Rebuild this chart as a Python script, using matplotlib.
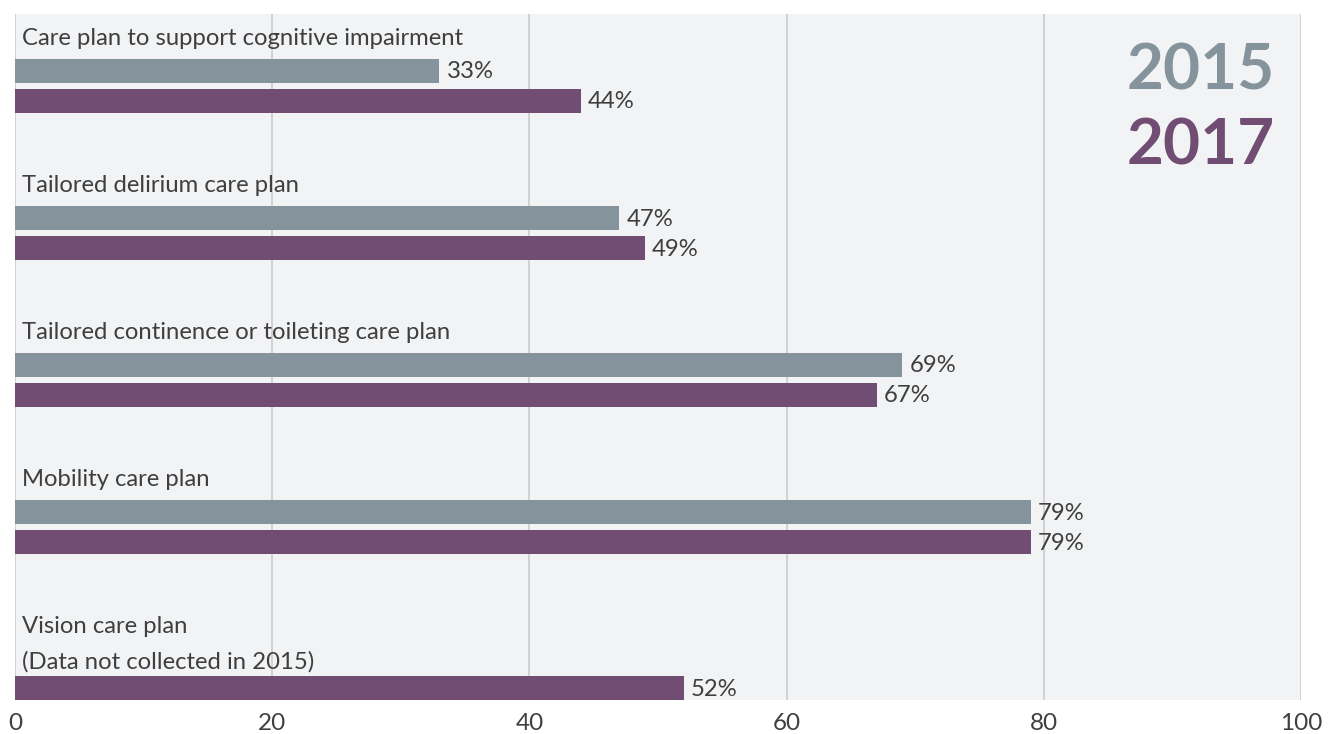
import matplotlib
matplotlib.use("Agg")
import matplotlib.pyplot as plt
import numpy as np

categories = [
    "Care plan to support cognitive impairment",
    "Tailored delirium care plan",
    "Tailored continence or toileting care plan",
    "Mobility care plan",
    "Vision care plan\n(Data not collected in 2015)",
]
values_2015 = [33, 47, 69, 79, None]
values_2017 = [44, 49, 67, 79, 52]
series_labels = ["2015", "2017"]
xticks = [0, 20, 40, 60, 80, 100]

GRAY = "#85949c"
PURPLE = "#714d74"
BG = "#f2f3f5"
TXT = "#3f3f3f"
FONT = ["Lato", "DejaVu Sans"]
FS = 17.2

plt.rcParams["font.family"] = FONT

fig = plt.figure(figsize=(13.36, 7.34), dpi=100)
ax = fig.add_axes([15/1336, 1-700/734, (1301-15)/1336, (700-14)/734])
ax.set_facecolor(BG)
ax.set_xlim(0, 100)
ax.set_ylim(700, 14)

step = 147
bar_h = 24
for i, cat in enumerate(categories):
    base = i * step
    lines = cat.split("\n")
    for j, ln in enumerate(lines):
        ax.text(0.55, 38.5 + base + j * 35, ln, ha="left", va="center",
                fontsize=FS, color=TXT)
    gy = 71 + base
    py = 101 + base if len(lines) == 1 else 688
    if values_2015[i] is not None:
        ax.barh(gy, values_2015[i], height=bar_h, color=GRAY, zorder=3)
        ax.text(values_2015[i] + 0.55, gy + 1, f"{values_2015[i]}%", ha="left",
                va="center", fontsize=FS, color=TXT, zorder=4)
    ax.barh(py, values_2017[i], height=bar_h, color=PURPLE, zorder=3)
    ax.text(values_2017[i] + 0.55, py + 1, f"{values_2017[i]}%", ha="left",
            va="center", fontsize=FS, color=TXT, zorder=4)

for x in xticks:
    ax.axvline(x, color="#c9c9c9", lw=1.1, zorder=1)

ax.set_xticks(xticks)
ax.set_xticklabels([str(t) for t in xticks], fontsize=17.5, color=TXT)
ax.tick_params(axis="x", length=0, pad=9)
ax.set_yticks([])
for s in ax.spines.values():
    s.set_visible(False)

ax.text(0.9795, 0.917, series_labels[0], transform=ax.transAxes, ha="right",
        va="center", fontsize=46, fontweight="bold", color=GRAY)
ax.text(0.9795, 0.808, series_labels[1], transform=ax.transAxes, ha="right",
        va="center", fontsize=46, fontweight="bold", color=PURPLE)

fig.savefig("out.png", dpi=100, facecolor="white")
